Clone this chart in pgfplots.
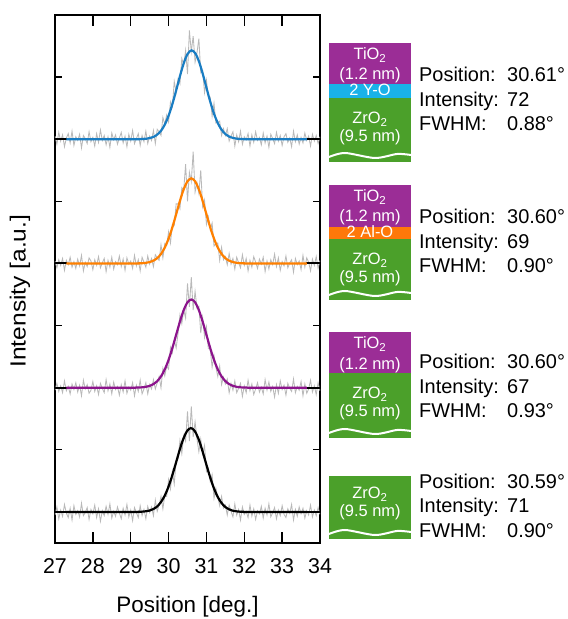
\documentclass[border=0pt]{standalone}
\usepackage{fontspec}
\setmainfont{Liberation Sans}
\usepackage{graphicx}
\usepackage{pgfplots}
\pgfplotsset{compat=1.18}
\usepackage{pgfplotstable}
\definecolor{fitblue}{RGB}{25,125,195}
\definecolor{fitorange}{RGB}{255,128,0}
\definecolor{fitpurple}{RGB}{140,20,140}
\definecolor{boxpurple}{RGB}{155,45,150}
\definecolor{boxblue}{RGB}{25,178,232}
\definecolor{boxorange}{RGB}{255,120,10}
\definecolor{boxgreen}{RGB}{75,160,42}
\definecolor{noise}{RGB}{185,185,185}

% gray measured data, relative to each trace's own baseline
\pgfplotstableread{
x a b c d
27.00 0.05 0.04 -0.04 -0.05
27.05 -0.08 -0.07 0.07 0.08
27.10 0.11 0.06 -0.06 -0.11
27.15 -0.03 -0.03 0.03 0.03
27.20 0.07 0.08 -0.08 -0.07
27.25 -0.12 -0.11 0.11 0.12
27.30 0.02 0.05 -0.05 -0.02
27.35 0.09 -0.02 0.02 -0.09
27.40 -0.06 0.10 -0.10 0.06
27.45 0.13 -0.06 0.06 -0.13
27.50 -0.10 0.03 -0.03 0.10
27.55 0.04 -0.08 0.08 -0.04
27.60 -0.02 0.07 -0.07 0.02
27.65 0.08 -0.04 0.04 -0.08
27.70 -0.14 0.13 -0.13 0.14
27.75 0.06 -0.12 0.12 -0.06
27.80 0.01 0.02 -0.02 -0.01
27.85 -0.07 -0.05 0.05 0.07
27.90 0.12 0.09 -0.09 -0.12
27.95 -0.04 0.04 -0.04 0.04
28.00 0.03 -0.10 0.10 -0.03
28.05 -0.11 0.06 -0.06 0.11
28.10 0.09 -0.03 0.03 -0.09
28.15 -0.05 0.11 -0.11 0.05
28.20 0.15 -0.07 0.07 -0.15
28.25 -0.02 0.01 -0.01 0.02
28.30 0.06 0.08 -0.08 -0.06
28.35 -0.09 -0.13 0.13 0.09
28.40 0.04 0.05 -0.05 -0.04
28.45 -0.13 -0.06 0.06 0.13
28.50 0.10 0.10 -0.10 -0.10
28.55 -0.01 -0.09 0.09 0.01
28.60 0.07 0.03 -0.03 -0.07
28.65 -0.08 -0.02 0.02 0.08
28.70 0.02 0.12 -0.12 -0.02
28.75 0.11 -0.05 0.05 -0.11
28.80 -0.06 0.07 -0.07 0.06
28.85 0.05 -0.11 0.11 -0.05
28.90 -0.12 0.09 -0.09 0.12
28.95 0.08 -0.01 0.01 -0.08
29.00 -0.03 0.04 -0.04 0.03
29.05 0.14 -0.08 0.08 -0.14
29.10 -0.07 0.13 -0.13 0.07
29.15 0.01 -0.04 0.04 -0.01
29.20 0.09 0.06 -0.06 -0.09
29.25 -0.10 -0.12 0.12 0.10
29.30 0.06 0.10 -0.10 -0.06
29.35 -0.04 0.02 -0.02 0.04
29.40 0.13 -0.06 0.08 -0.11
29.45 -0.07 0.12 -0.10 0.09
29.50 0.05 -0.01 0.05 -0.01
29.55 -0.02 0.08 -0.02 0.08
29.60 0.14 -0.05 0.13 -0.06
29.65 -0.07 0.14 -0.02 0.19
29.70 0.16 0.09 0.08 0.01
29.75 0.12 0.05 0.18 0.11
29.80 0.06 0.30 0.00 0.25
29.85 0.35 0.09 0.31 0.05
29.90 0.24 0.32 0.19 0.27
29.95 0.39 0.29 0.35 0.25
30.00 0.28 0.51 0.30 0.52
30.05 0.60 0.33 0.65 0.37
30.10 0.52 0.62 0.56 0.65
30.15 0.93 0.61 0.77 0.45
30.20 0.76 0.96 0.64 0.83
30.25 0.97 0.96 0.87 0.85
30.30 0.89 0.88 1.17 1.15
30.35 1.30 1.22 1.03 0.94
30.40 1.19 1.18 1.25 1.23
30.45 1.43 1.60 1.12 1.14
30.50 1.05 1.00 1.68 1.62
30.55 1.75 1.47 1.30 1.14
30.60 1.41 1.32 1.78 1.70
30.65 1.66 1.80 1.25 1.21
30.70 1.24 1.15 1.55 1.45
30.75 1.39 1.30 1.28 1.18
30.80 1.62 1.13 1.31 0.97
30.85 1.07 1.50 0.88 1.17
30.90 1.10 0.91 1.13 0.94
30.95 0.75 1.02 0.81 1.07
31.00 0.95 0.63 0.98 0.65
31.05 0.68 0.75 0.63 0.70
31.10 0.68 0.55 0.62 0.49
31.15 0.37 0.65 0.33 0.60
31.20 0.58 0.28 0.52 0.22
31.25 0.26 0.32 0.33 0.38
31.30 0.27 0.33 0.18 0.24
31.35 0.29 0.05 0.35 0.10
31.40 0.06 0.26 0.05 0.25
31.45 0.17 0.06 0.17 0.06
31.50 0.06 0.11 0.06 0.11
31.55 0.17 -0.02 0.14 -0.05
31.60 -0.03 0.16 -0.08 0.11
31.65 0.05 -0.01 0.07 0.01
31.70 0.12 0.08 -0.04 -0.08
31.75 -0.11 -0.09 0.11 0.13
31.80 0.07 0.10 -0.08 -0.05
31.85 -0.04 0.01 -0.01 0.04
31.90 0.13 -0.07 0.07 -0.13
31.95 -0.08 0.14 -0.14 0.08
32.00 0.04 -0.03 0.03 -0.04
32.05 -0.01 0.08 -0.08 0.01
32.10 0.09 -0.12 0.12 -0.09
32.15 -0.11 0.05 -0.05 0.11
32.20 0.07 -0.06 0.06 -0.07
32.25 -0.05 0.11 -0.11 0.05
32.30 0.12 0.02 -0.02 -0.12
32.35 -0.02 -0.08 0.08 0.02
32.40 0.03 0.07 -0.07 -0.03
32.45 -0.09 -0.01 0.01 0.09
32.50 0.10 0.10 -0.10 -0.10
32.55 -0.06 -0.13 0.13 0.06
32.60 0.05 0.04 -0.04 -0.05
32.65 -0.13 -0.09 0.09 0.13
32.70 0.08 0.06 -0.06 -0.08
32.75 0.01 -0.02 0.02 -0.01
32.80 -0.07 0.15 -0.15 0.07
32.85 0.11 -0.05 0.05 -0.11
32.90 -0.03 0.09 -0.09 0.03
32.95 0.06 -0.11 0.11 -0.06
33.00 -0.10 0.03 -0.03 0.10
33.05 0.04 -0.04 0.04 -0.04
33.10 0.09 0.12 -0.12 -0.09
33.15 -0.05 -0.07 0.07 0.05
33.20 0.02 0.01 -0.01 -0.02
33.25 -0.12 0.06 -0.06 0.12
33.30 0.13 -0.14 0.14 -0.13
33.35 -0.04 0.08 -0.08 0.04
33.40 0.07 -0.02 0.02 -0.07
33.45 -0.08 0.04 -0.04 0.08
33.50 0.03 -0.10 0.10 -0.03
33.55 -0.06 0.13 -0.13 0.06
33.60 0.10 -0.06 0.06 -0.10
33.65 -0.02 0.09 -0.09 0.02
33.70 0.05 0.02 -0.02 -0.05
33.75 -0.11 -0.12 0.12 0.11
33.80 0.08 0.07 -0.07 -0.08
33.85 -0.03 -0.03 0.03 0.03
33.90 0.06 0.11 -0.11 -0.06
33.95 -0.07 -0.08 0.08 0.07
34.00 0.04 0.05 -0.05 -0.04
}\graydata

\newcommand\boxfont{\fontsize{16.5}{19}\selectfont}
\newcommand\infofont{\fontsize{20}{24}\selectfont}

\begin{document}
\begin{tikzpicture}[x=1bp,y=1bp]
\path[use as bounding box] (-55,-76) rectangle (513,543);
\begin{axis}[
  at={(0,0)}, anchor=south west,
  scale only axis, width=265bp, height=528bp,
  xmin=27, xmax=34, ymin=-0.5, ymax=8,
  xtick={27,28,...,34}, ytick={0,1,...,7}, yticklabels={},
  tick align=inside,
  axis line style={line width=1.6bp},
  xtick style={/pgfplots/major tick length=11bp, line width=1.3bp, black},
  ytick style={/pgfplots/major tick length=7bp, line width=1.3bp, black},
  /pgf/number format/assume math mode=true,
  xticklabel style={font=\fontsize{21.5}{25}\selectfont, anchor=center, yshift=-23bp},
  xlabel={Position [deg.]},
  xlabel style={at={(axis description cs:0.5,-0.121)}, anchor=center, font=\fontsize{22.5}{26}\selectfont},
  ylabel={\scalebox{1.12}[1]{Intensity [a.u.]}},
  ylabel style={at={(axis description cs:-0.132,0.477)}, anchor=center, font=\fontsize{22}{26}\selectfont},
]
% measured (gray)
\addplot[color=noise, line width=0.85bp] table[x=x, y expr=\thisrow{a}+6] {\graydata};
\addplot[color=noise, line width=0.85bp] table[x=x, y expr=\thisrow{b}+4] {\graydata};
\addplot[color=noise, line width=0.85bp] table[x=x, y expr=\thisrow{c}+2] {\graydata};
\addplot[color=noise, line width=0.85bp] table[x=x, y expr=\thisrow{d}+0] {\graydata};
% baseline stubs
\addplot[black, line width=2bp, unbounded coords=jump] coordinates {
 (27,6) (27.32,6) (27.5,nan) (33.63,6) (34,6) (33.9,nan)
 (27,4) (27.32,4) (27.5,nan) (33.63,4) (34,4) (33.9,nan)
 (27,2) (27.32,2) (27.5,nan) (33.63,2) (34,2) (33.9,nan)
 (27,0) (27.32,0) (27.5,nan) (33.63,0) (34,0)};
% fits
\addplot[fitblue, line width=2.2bp, smooth] coordinates {
 (27.30,6) (29.11,6) (29.21,6.001) (29.31,6.003) (29.41,6.008) (29.51,6.019) (29.61,6.040) (29.71,6.079) (29.81,6.144) (29.91,6.247) (30.01,6.395) (30.11,6.585) (30.21,6.807) (30.31,7.037) (30.41,7.240) (30.51,7.380) (30.61,7.430) (30.71,7.380) (30.81,7.240) (30.91,7.037) (31.01,6.807) (31.11,6.585) (31.21,6.395) (31.31,6.247) (31.41,6.144) (31.51,6.079) (31.61,6.040) (31.71,6.019) (31.81,6.008) (31.91,6.003) (32.01,6.001) (32.11,6) (33.65,6)};
\addplot[fitorange, line width=2.2bp, smooth] coordinates {
 (27.30,4) (29.10,4) (29.20,4.002) (29.30,4.004) (29.40,4.010) (29.50,4.022) (29.60,4.045) (29.70,4.086) (29.80,4.153) (29.90,4.256) (30.00,4.400) (30.10,4.582) (30.20,4.792) (30.30,5.007) (30.40,5.195) (30.50,5.323) (30.60,5.370) (30.70,5.323) (30.80,5.195) (30.90,5.007) (31.00,4.792) (31.10,4.582) (31.20,4.400) (31.30,4.256) (31.40,4.153) (31.50,4.086) (31.60,4.045) (31.70,4.022) (31.80,4.010) (31.90,4.004) (32.00,4.002) (32.10,4) (33.65,4)};
\addplot[fitpurple, line width=2.2bp, smooth] coordinates {
 (27.30,2) (29.00,2) (29.10,2.001) (29.20,2.003) (29.30,2.006) (29.40,2.014) (29.50,2.029) (29.60,2.058) (29.70,2.106) (29.80,2.182) (29.90,2.295) (30.00,2.447) (30.10,2.638) (30.20,2.851) (30.30,3.064) (30.40,3.250) (30.50,3.375) (30.60,3.420) (30.70,3.375) (30.80,3.250) (30.90,3.064) (31.00,2.851) (31.10,2.638) (31.20,2.447) (31.30,2.295) (31.40,2.182) (31.50,2.106) (31.60,2.058) (31.70,2.029) (31.80,2.014) (31.90,2.006) (32.00,2.003) (32.10,2.001) (32.20,2) (33.65,2)};
\addplot[black, line width=2.2bp, smooth] coordinates {
 (27.30,0) (29.09,0) (29.19,0.002) (29.29,0.004) (29.39,0.010) (29.49,0.021) (29.59,0.044) (29.69,0.084) (29.79,0.151) (29.89,0.252) (29.99,0.394) (30.09,0.574) (30.19,0.780) (30.29,0.992) (30.39,1.177) (30.49,1.304) (30.59,1.350) (30.69,1.304) (30.79,1.177) (30.89,0.992) (30.99,0.780) (31.09,0.574) (31.19,0.394) (31.29,0.252) (31.39,0.151) (31.49,0.084) (31.59,0.044) (31.69,0.021) (31.79,0.010) (31.89,0.004) (31.99,0.002) (32.09,0) (33.65,0)};
\end{axis}

% ---- layer stacks ----
% stack 1
\fill[boxpurple] (274,459) rectangle (356,500);
\fill[boxblue] (274,445) rectangle (356,459);
\fill[boxgreen] (274,381) rectangle (356,445);
\draw[white, line width=2bp] plot[smooth] coordinates {(274,386) (290,390) (320,385) (342,389) (356,388)};
% stack 2
\fill[boxpurple] (274,316) rectangle (356,358);
\fill[boxorange] (274,304) rectangle (356,316);
\fill[boxgreen] (274,243) rectangle (356,304);
\draw[white, line width=2bp] plot[smooth] coordinates {(274,248) (290,252) (320,247) (342,251) (356,250)};
% stack 3
\fill[boxpurple] (274,170) rectangle (356,211);
\fill[boxgreen] (274,105) rectangle (356,170);
\draw[white, line width=2bp] plot[smooth] coordinates {(274,110) (290,114) (320,109) (342,113) (356,112)};
% stack 4
\fill[boxgreen] (274,4) rectangle (356,67);
\draw[white, line width=2bp] plot[smooth] coordinates {(274,9) (290,13) (320,8) (342,12) (356,11)};

\begin{scope}[every node/.style={white, inner sep=0pt, anchor=base, font=\boxfont}]
\node at (315,483) {TiO\textsubscript{2}};
\node at (315,463) {(1.2 nm)};
\node at (315,447) {2 Y-O};
\node at (315,419) {ZrO\textsubscript{2}};
\node at (315,401) {(9.5 nm)};
\node at (315,341) {TiO\textsubscript{2}};
\node at (315,321) {(1.2 nm)};
\node at (315,305) {2 Al-O};
\node at (315,278) {ZrO\textsubscript{2}};
\node at (315,260) {(9.5 nm)};
\node at (315,194) {TiO\textsubscript{2}};
\node at (315,173) {(1.2 nm)};
\node at (315,144) {ZrO\textsubscript{2}};
\node at (315,126) {(9.5 nm)};
\node at (315,44) {ZrO\textsubscript{2}};
\node at (315,26) {(9.5 nm)};
\end{scope}

% ---- fit results ----
\begin{scope}[every node/.style={black, inner sep=0pt, anchor=base west, font=\infofont}]
\node at (364,461) {Position:};  \node at (452,461) {30.61°};
\node at (364,436) {Intensity:}; \node at (452,436) {72};
\node at (364,412) {FWHM:};      \node at (452,412) {0.88°};
\node at (364,319) {Position:};  \node at (452,319) {30.60°};
\node at (364,294) {Intensity:}; \node at (452,294) {69};
\node at (364,270) {FWHM:};      \node at (452,270) {0.90°};
\node at (364,174) {Position:};  \node at (452,174) {30.60°};
\node at (364,149) {Intensity:}; \node at (452,149) {67};
\node at (364,125) {FWHM:};      \node at (452,125) {0.93°};
\node at (364,54) {Position:};   \node at (452,54) {30.59°};
\node at (364,30) {Intensity:};  \node at (452,30) {71};
\node at (364,5) {FWHM:};        \node at (452,5) {0.90°};
\end{scope}
\end{tikzpicture}
\end{document}
